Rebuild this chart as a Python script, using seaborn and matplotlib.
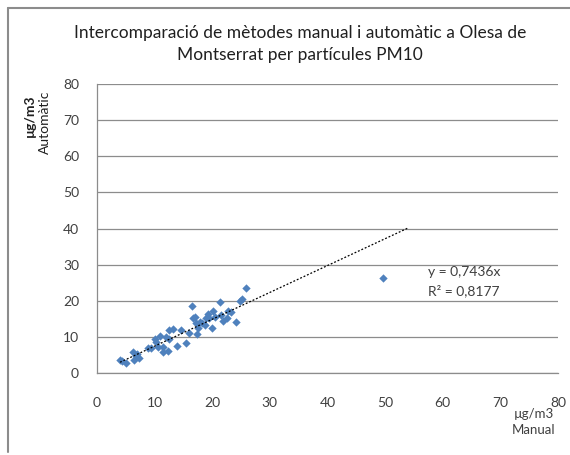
import matplotlib
matplotlib.use("Agg")
import matplotlib.pyplot as plt
import seaborn as sns
import numpy as np
import pandas as pd
from matplotlib.lines import Line2D

manual = [4.3, 5.1, 6.2, 6.5, 7.0, 7.3, 8.8, 9.4, 10.1, 10.3, 10.6, 11.4, 11.5, 12.0,
          12.3, 12.5, 12.5, 13.8, 14.5, 15.5, 16.0, 16.5, 16.6, 17.0, 17.2, 17.3, 17.6,
          17.9, 18.3, 18.7, 19.0, 19.3, 19.5, 19.9, 20.1, 20.5, 21.4, 21.6, 21.9, 22.5,
          22.8, 23.3, 24.1, 24.8, 25.2, 25.9, 49.7, 4.0, 6.8, 11.0, 13.2]
automatic = [3.3, 2.7, 5.9, 3.6, 5.2, 4.2, 6.8, 6.8, 9.4, 8.7, 7.1, 7.1, 5.9, 10.1,
             6.2, 9.4, 11.9, 7.5, 11.9, 8.4, 11.2, 18.6, 15.2, 15.4, 13.9, 10.8, 12.4,
             14.2, 13.8, 13.3, 15.2, 16.3, 15.2, 12.4, 17.3, 15.4, 19.7, 16.1, 14.5, 15.2,
             17.3, 17.0, 14.2, 20.0, 20.4, 23.5, 26.4, 3.6, 4.8, 10.3, 12.3]
slope = 0.7436
r2 = 0.8177
trend_x = [4.0, 54.0]
xticks = [0, 10, 20, 30, 40, 50, 60, 70, 80]
yticks = [0, 10, 20, 30, 40, 50, 60, 70, 80]

sns.set_theme(style="white")
plt.rcParams['font.family'] = ['Lato', 'DejaVu Sans']

fig = plt.figure(figsize=(5.7, 4.55), dpi=100)
ax = fig.add_axes([97/570, 1-373/455, (558-97)/570, (373-84)/455])

df = pd.DataFrame({"Manual": manual, "Automatic": automatic})
sns.scatterplot(data=df, x="Manual", y="Automatic", ax=ax, marker="D", s=18,
                color="#4F81BD", edgecolor="#4F81BD", linewidth=0, zorder=3)

tx = np.array(trend_x)
ax.plot(tx, slope * tx, linestyle=(0, (1.5, 1.5)), color="black", linewidth=0.9, zorder=4)

ax.set_xlim(0, 80)
ax.set_ylim(0, 80)
ax.set_xticks(xticks)
ax.set_yticks(yticks)
ax.set_xlabel("")
ax.set_ylabel("")
ax.yaxis.grid(True, color="#8C8C8C", linewidth=0.9)
ax.xaxis.grid(False)
for s in ["top", "right"]:
    ax.spines[s].set_visible(False)
for s in ["left", "bottom"]:
    ax.spines[s].set_color("#8C8C8C")
    ax.spines[s].set_linewidth(0.9)
ax.tick_params(axis="both", direction="out", length=5, width=0.9, color="#8C8C8C",
               labelsize=10, labelcolor="#404040", pad=8)
ax.tick_params(axis="x", pad=12)

ax.text(57.5, 28.0, "y = 0,7436x", fontsize=10, color="#404040", va="center", ha="left")
ax.text(57.5, 22.7, "R² = 0,8177", fontsize=10, color="#404040", va="center", ha="left")

fig.text(0.526, 0.903, "Intercomparació de mètodes manual i automàtic a Olesa de\nMontserrat per partícules PM10",
         ha="center", va="center", fontsize=12.5, color="#202020", linespacing=1.45)
fig.text(534/570, 1-422/455, "µg/m3\nManual", ha="center", va="center", fontsize=9.5,
         color="#404040", linespacing=1.5)
fig.text(30/570, 1-116/455, "µg/m3", ha="center", va="center", rotation=90, fontsize=10,
         fontweight="bold", color="#202020")
fig.text(45/570, 1-122/455, "Automàtic", ha="center", va="center", rotation=90, fontsize=10,
         color="#202020")

fig.add_artist(Line2D([8/570, 8/570], [1-8/455, 1-452/455], transform=fig.transFigure,
                      color="#8C8C8C", linewidth=1.5))
fig.add_artist(Line2D([8/570, 1.0], [1-8/455, 1-8/455], transform=fig.transFigure,
                      color="#8C8C8C", linewidth=1.5))

fig.savefig("out.png", dpi=100)
